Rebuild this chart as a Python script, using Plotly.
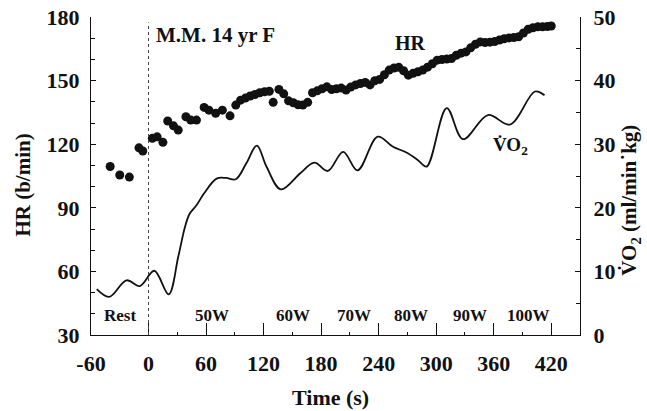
import plotly.graph_objects as go

# Heart rate dots (time in s, HR in b/min)
hr_time = [-40, -30, -20, -10, -6, 4, 9, 15, 20, 26, 31, 39, 44, 50, 58, 63, 70, 77, 85, 91,
           96, 101, 106, 111, 116, 121, 126, 130, 136, 141, 146, 151, 156, 161, 166, 171, 176,
           181, 186, 191, 196, 201, 206, 211, 216, 221, 226, 231, 236, 241, 246, 251, 256, 261,
           266, 271, 276, 281, 286, 291, 296, 301, 306, 311, 316, 321, 326, 331, 336, 341, 346,
           351, 356, 361, 366, 371, 376, 381, 386, 391, 396, 401, 406, 411, 416, 420]
hr_values = [109.5, 105.5, 104.5, 118.3, 116.8, 122.8, 123.5, 120.9, 131, 128.7, 126.7, 133,
             131.4, 131.4, 137.4, 136.1, 134.6, 136.1, 133.4, 138.5, 140.8, 141.8, 142.8, 143.5,
             144.3, 144.8, 145, 139.8, 145.9, 143.8, 140.5, 139.6, 138.6, 138.5, 139.8, 144.3,
             145.2, 146.2, 147.1, 145.8, 146.2, 146.5, 145.6, 147, 148, 148.7, 149.2, 148, 150,
             150.6, 152.8, 155, 156, 156.3, 154.7, 152.6, 153.5, 154.2, 155, 156.4, 158, 159.7,
             160, 160.2, 160.5, 162, 163, 163.6, 165.5, 167.2, 168.3, 168, 168.2, 168.5, 169.2,
             169.8, 170.2, 170.4, 170.7, 172.5, 174.3, 175, 175.4, 175.4, 175.6, 175.8]

# VO2 curve (ml/min kg)
vo2_time = [-54, -41, -23, -9, 6, 21, 31, 38, 43, 50, 58, 71, 81, 91, 102, 113, 123, 138, 158,
            173, 187, 203, 218, 239, 255, 269, 281, 290, 311, 328, 354, 377, 403, 413]
vo2_values = [7.2, 6.0, 8.6, 7.7, 10.1, 6.4, 12.3, 17.0, 19.1, 20.4, 22.3, 24.6, 24.7, 24.5,
              27.0, 29.8, 26.5, 22.9, 25.4, 27.1, 25.8, 28.8, 25.9, 31.2, 29.6, 28.7, 27.5,
              26.5, 35.7, 30.8, 34.6, 33.1, 38.3, 37.7]

# Stage labels
stage_labels = ["Rest", "50W", "60W", "70W", "80W", "90W", "100W"]
stage_pos = [-30, 66, 151, 214, 274, 335, 396]

x_ticks = [-60, 0, 60, 120, 180, 240, 300, 360, 420]
hr_ticks = [30, 60, 90, 120, 150, 180]
vo2_ticks = [0, 10, 20, 30, 40, 50]

FONT = "Liberation Serif"
BLACK = "#111111"

fig = go.Figure()

fig.add_trace(go.Scatter(
    x=vo2_time, y=vo2_values, mode="lines", yaxis="y2",
    line=dict(color=BLACK, width=1.8, shape="spline", smoothing=1.0),
    showlegend=False, hoverinfo="skip"))

fig.add_trace(go.Scatter(
    x=hr_time, y=hr_values, mode="markers",
    marker=dict(color=BLACK, size=9),
    showlegend=False))

# dotted line at exercise onset
fig.add_shape(type="line", x0=0, x1=0, y0=30, y1=177.5, xref="x", yref="y",
              line=dict(color="#444444", width=1, dash="dot"))

tfont = dict(family=FONT, size=22, color=BLACK, weight="bold")

fig.update_layout(
    width=647, height=411,
    margin=dict(l=91, r=67, t=17, b=76, autoexpand=False),
    paper_bgcolor="white", plot_bgcolor="white",
    font=dict(family=FONT, color=BLACK),
    xaxis=dict(
        range=[-60, 450], tickvals=x_ticks, ticktext=[str(v) for v in x_ticks],
        ticks="inside", ticklen=12, tickwidth=1.3, tickcolor=BLACK,
        minor=dict(tickvals=[30, 90, 150, 210, 270, 330, 390], ticks="inside", ticklen=3,
                   tickwidth=1, tickcolor=BLACK),
        showline=True, linecolor=BLACK, linewidth=1.3, showgrid=False, zeroline=False,
        tickfont=tfont, ticklabelstandoff=8, automargin=False),
    yaxis=dict(
        range=[29.99, 180.06], tickvals=hr_ticks, ticks="inside", ticklen=5, tickwidth=1,
        tickcolor=BLACK,
        minor=dict(dtick=10, tick0=30, ticks="inside", ticklen=4, tickwidth=1, tickcolor=BLACK),
        showline=True, linecolor=BLACK, linewidth=1, showgrid=False, zeroline=False,
        tickfont=tfont, ticklabelstandoff=6, automargin=False),
    yaxis2=dict(
        range=[-0.0033, 50.02], tickvals=vo2_ticks, overlaying="y", side="right",
        ticks="inside", ticklen=5, tickwidth=1, tickcolor=BLACK,
        minor=dict(dtick=5, tick0=0, ticks="inside", ticklen=4, tickwidth=1, tickcolor=BLACK),
        showline=True, linecolor=BLACK, linewidth=1.3, showgrid=False, zeroline=False,
        tickfont=tfont, ticklabelstandoff=8, automargin=False),
)

ann = []
# axis titles (placed in paper coordinates)
ann.append(dict(x=-0.141, y=0.47, xref="paper", yref="paper", text="<b>HR (b/min)</b>",
                textangle=-90, showarrow=False, xanchor="center", yanchor="middle",
                font=dict(family=FONT, size=21, color=BLACK)))
ann.append(dict(x=1.104, y=0.425, xref="paper", yref="paper",
                text="<b>V\u0307O<sub>2</sub> (ml/min\u02d9kg)</b>",
                textangle=-90, showarrow=False, xanchor="center", yanchor="middle",
                font=dict(family=FONT, size=21, color=BLACK)))
ann.append(dict(x=0.489, y=-0.195, xref="paper", yref="paper", text="<b>Time (s)</b>",
                showarrow=False, xanchor="center", yanchor="middle",
                font=dict(family=FONT, size=22, color=BLACK)))
ann.append(dict(x=6, y=171.5, xref="x", yref="y", text="<b>M.M. 14 yr F</b>", showarrow=False,
                xanchor="left", yanchor="middle", font=dict(family=FONT, size=21, color=BLACK)))
ann.append(dict(x=273, y=168, xref="x", yref="y", text="<b>HR</b>", showarrow=False,
                xanchor="center", yanchor="middle", font=dict(family=FONT, size=20, color=BLACK)))
ann.append(dict(x=377, y=29.7, xref="x", yref="y2", text="<b>V\u0307O<sub>2</sub></b>", showarrow=False,
                xanchor="center", yanchor="middle", font=dict(family=FONT, size=19, color=BLACK)))
for lab, pos in zip(stage_labels, stage_pos):
    ann.append(dict(x=pos, y=39.4, xref="x", yref="y", text="<b>%s</b>" % lab, showarrow=False,
                    xanchor="center", yanchor="middle", font=dict(family=FONT, size=17, color=BLACK)))
fig.update_layout(annotations=ann)

# remove the default 8px page margin so the figure sits at the window's top-left corner
fig.write_html("out.html", config={"displayModeBar": False},
               post_script="document.body.style.margin='0';")
